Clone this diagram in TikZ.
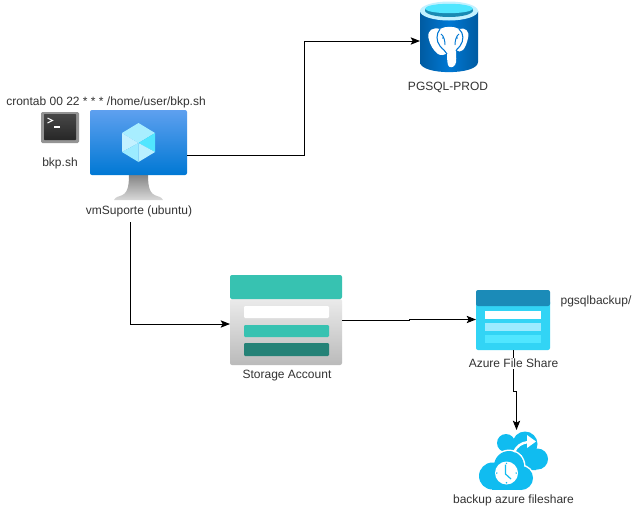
\documentclass[tikz,border=0pt]{standalone}
\usepackage{fontspec}
\setmainfont{Liberation Sans}
\usetikzlibrary{arrows.meta,calc}
\def\px{0.75pt}
\definecolor{txt}{HTML}{333333}
\tikzset{
 x=0.75pt,y=-0.75pt,
 conn/.style={line width=0.75pt,black,-{Stealth[length=7pt,width=5.5pt,inset=1.5pt]}},
 lbl/.style={font=\fontsize{9}{11}\selectfont,text=txt,inner sep=0.5pt},
 icon/.style={inner sep=0,outer sep=0,minimum width=#1*\px},
 vmscreen/.style={rounded corners=1.5pt,top color=vmtop,bottom color=vmbot,draw=none},
 bar/.style={rounded corners=0.8pt,draw=none},
}
\definecolor{vmtop}{HTML}{5EA0EF}
\definecolor{vmbot}{HTML}{0078D4}
\definecolor{sateal}{HTML}{37C2B1}
\definecolor{sadark}{HTML}{258277}
\definecolor{fsdark}{HTML}{1B8BB8}
\definecolor{fsbody}{HTML}{32D4F5}
\definecolor{fsbar}{HTML}{9CEBFF}
\definecolor{fsbarb}{HTML}{50E6FF}
\definecolor{cloudc}{HTML}{10BCF0}
\definecolor{pgblue}{HTML}{0078D4}
\definecolor{pgdark}{HTML}{005BA1}
\definecolor{cubea}{HTML}{A8EEFF}
\definecolor{cubeb}{HTML}{50E6FF}
\definecolor{cubec}{HTML}{C3F1FF}
\definecolor{cubed}{HTML}{9CEBFF}
\definecolor{cubee}{HTML}{B8F0FF}
\definecolor{rim}{HTML}{C3F1FF}
\definecolor{well}{HTML}{50E6FF}
\definecolor{welld}{HTML}{198AB3}
\begin{document}
\begin{tikzpicture}
\useasboundingbox[fill=white] (0,0) rectangle (642,511);
% ---- named icon frames
\node[icon=97,minimum height=90*\px] (vm) at (138.5,155) {};
\node[icon=38,minimum height=31*\px] (term) at (60,127.5) {};
\node[icon=58,minimum height=70*\px] (pg) at (449,37) {};
\node[icon=112,minimum height=90*\px] (sa) at (286,320) {};
\node[icon=74,minimum height=60*\px] (fs) at (513,320) {};
\node[icon=69,minimum height=58*\px] (bk) at (514,461) {};
\coordinate (vmout) at (130,222);
\coordinate (sain) at ($(sa.west)+(0,4)$);
% ---- VM
\shade[top color=black!48,bottom color=black!15] (129,175) -- (148,175) .. controls (148,188) and (150,194) .. (157,196) .. controls (161,197) and (163,199) .. (163,200) -- (114,200) .. controls (114,199) and (116,197) .. (120,196) .. controls (127,194) and (129,188) .. (129,175) -- cycle;
\shade[vmscreen] (90,110) rectangle (187,175);
\fill[cubea] (138.5,123) -- (155,133) -- (138.5,143) -- (122,133) -- cycle;
\fill[cubeb] (155,133) -- (155,152) -- (138.5,143) -- cycle;
\fill[cubec] (122,133) -- (138.5,143) -- (122,152) -- cycle;
\fill[cubed] (122,152) -- (138.5,143) -- (138.5,162) -- cycle;
\fill[cubee] (138.5,143) -- (155,152) -- (138.5,162) -- cycle;
% ---- terminal
\fill[rounded corners=1pt,black!42] (41,112) rectangle (79,143);
\shade[rounded corners=0.5pt,top color=black!72,bottom color=black!85] (44,114) rectangle (76,140);
\draw[white,line width=0.7pt] (47.5,118) -- (52.5,120.5) -- (47.5,123);
\draw[white,line width=0.8pt] (54,127) -- (60,127);
% ---- PostgreSQL
\shade[left color=pgdark,right color=pgdark,middle color=pgblue] (420,11) -- (420,62) .. controls (420,75.5) and (478,75.5) .. (478,62) -- (478,11) -- cycle;
\fill[rim] (449,11) ellipse [x radius=29,y radius=9.5];
\fill[welld] (449,10.5) ellipse [x radius=24,y radius=6.5];
\fill[well] (449,8.5) ellipse [x radius=24,y radius=4.7];
% elephant
\fill[white] (428.5,38) .. controls (427,30) and (433,27) .. (440,29) .. controls (445,26) and (454,26) .. (459,29) .. controls (465,27) and (470,31) .. (468,38) .. controls (467,43) and (465,48) .. (463,50) .. controls (461,52) and (458,52) .. (456,50) .. controls (456,56) and (457,62) .. (455,65) .. controls (453,68) and (449,68) .. (448,65) .. controls (447,61) and (447,56) .. (447,53) .. controls (445,55) and (441,56) .. (438,54) .. controls (433,50) and (430,45) .. (428.5,38) -- cycle;
\draw[pgblue,line width=0.8pt] (440,29) .. controls (436,34) and (436,41) .. (440,46) .. controls (443,50) and (446,51) .. (447,54);
\draw[pgblue,line width=0.8pt] (459,29) .. controls (464,33) and (464,41) .. (460,46) .. controls (458,49) and (456,49) .. (456,51);
\draw[pgblue,line width=0.7pt] (441,34) .. controls (444,36) and (445,41) .. (445,45);
\draw[pgblue,line width=0.7pt] (459,34) .. controls (456,36) and (455,41) .. (455,45);
\fill[pgblue] (443,38) circle [radius=0.9] (457,38) circle [radius=0.9];
% ---- Storage account
\shade[rounded corners=1.5pt,top color=white!92!black,bottom color=black!27] (230,299) -- (342,299) -- (342,365) -- (230,365) -- cycle;
\fill[sateal,rounded corners=1.5pt] (230,299) -- (230,275) -- (342,275) -- (342,299) -- cycle;
\fill[bar,white] (244,306) rectangle (329,318);
\fill[bar,sateal] (244,325) rectangle (329,337);
\fill[bar,sadark] (244,343) rectangle (329,356);
% ---- File share
\fill[fsbody,rounded corners=1.5pt] (476,300) -- (550,300) -- (550,350) -- (476,350) -- cycle;
\fill[fsdark,rounded corners=1.5pt] (476,306) -- (476,290) -- (550,290) -- (550,306) -- cycle;
\fill[white] (485,311) rectangle (541,319);
\fill[fsbar] (485,323) rectangle (541,331);
\fill[fsbarb] (485,335) rectangle (541,343);
% ---- backup cloud: back cloud
\fill[cloudc] (525,444) circle [radius=12.5] (506,443) circle [radius=9] (537.5,459) circle [radius=10.5];
\fill[cloudc] (506,445) -- (515,438) -- (530,450) -- (540,465) -- (536,470) -- (510,470) -- cycle;
% front cloud, with a white edge
\draw[white,line width=2.2pt] (509,466) circle [radius=15] (492.5,476) circle [radius=13.5] (521,478) circle [radius=12];
\fill[white] (505,455) rectangle (522,470);
\fill[cloudc] (509,466) circle [radius=15] (492.5,476) circle [radius=13.5] (521,478) circle [radius=12];
\fill[cloudc] (492,478) rectangle (521,490);
% arrow
\draw[white,line width=1.8pt] (514,452) .. controls (517,446) and (521,443) .. (528,442);
\fill[white] (527,435) -- (536,441.5) -- (527,448) -- cycle;
% clock
\fill[white] (506.5,473) circle [radius=11.5];
\draw[cloudc,line width=0.9pt] (505.5,464.5) -- (505.5,474) -- (511,479);
\foreach \a in {0,90,180,270}{\fill[cloudc] ($(506.5,473)+(\a:9.7)$) circle [radius=0.8];}
% ---- connectors
\draw[conn] (vm.east) -- (304,155) -- (304,41) -- (pg.west|-0,41);
\draw[conn] (vmout) |- (sain);
\draw[conn] (sa.east) -- (409,320) -- (409,319.5) -- (fs.west|-0,319.5);
\draw[conn] (fs.south -| 513.5,0) -- (513.5,391) -- (516.5,391) -- ($(bk.north -| 516.5,0)+(0,-2)$);
% ---- labels
\node[lbl] (cron) at (106,102) {crontab 00 22 * * * /home/user/bkp.sh};
\node[lbl] (termlbl) at (60,163.5) {bkp.sh};
\node[lbl] (vmlbl) at (139,211.5) {vmSuporte (ubuntu)};
\node[lbl] (pglbl) at (448,87.5) {PGSQL-PROD};
\node[lbl] (salbl) at (287,375.5) {Storage Account};
\node[lbl,fill=white] (fslbl) at (513.5,363.5) {Azure File Share};
\node[lbl] (pgbk) at (596,301) {pgsqlbackup/};
\node[lbl] (bklbl) at (513.5,500.5) {backup azure fileshare};
\end{tikzpicture}
\end{document}
